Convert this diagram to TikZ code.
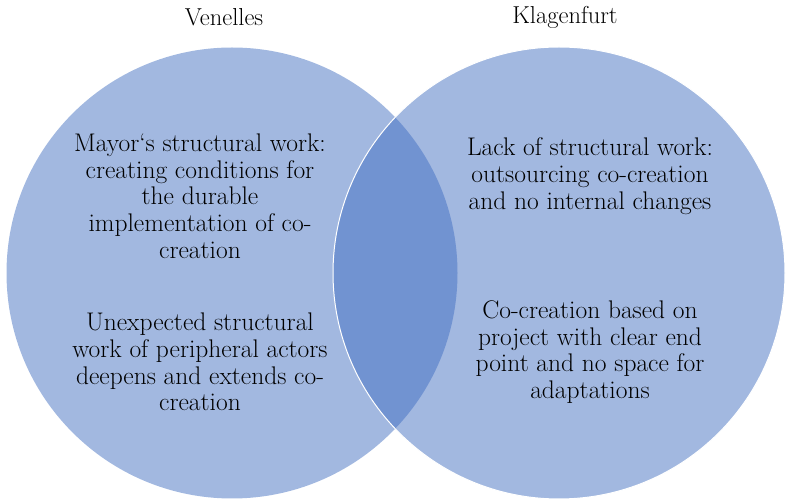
\documentclass[tikz,border=0pt]{standalone}
\usepackage{fontspec}
\definecolor{lightfill}{HTML}{A2B8E0}
\definecolor{darkfill}{HTML}{7193D1}
\tikzset{
  label/.style={align=center, inner sep=0pt, font=\fontsize{25.5}{26.7}\selectfont},
  title/.style={inner sep=0pt, font=\fontsize{24.5}{26.7}\selectfont}
}
\begin{document}
\begin{tikzpicture}[x=1pt,y=-1pt]
\useasboundingbox (0,0) rectangle (788,502);
\coordinate (cl) at (232,273);
\coordinate (cr) at (559,273);
\fill[lightfill] (cl) circle[radius=225.5];
\fill[lightfill] (cr) circle[radius=226];
\begin{scope}
\clip (cl) circle[radius=225.5];
\fill[darkfill] (cr) circle[radius=226];
\end{scope}
\draw[white, line width=1pt] (cr) circle[radius=226];
\node[title] (t1) at (224,17) {Venelles};
\node[title] (t2) at (565,17) {Klagenfurt};
\node[label] (a) at (200,196) {Mayor‘s structural work:\\creating conditions for\\the durable\\implementation of co-\\creation};
\node[label] (b) at (200,362) {Unexpected structural\\work of peripheral actors\\deepens and extends co-\\creation};
\node[label] (c) at (590,176) {Lack of structural work:\\outsourcing co-creation\\and no internal changes};
\node[label] (d) at (590,352) {Co-creation based on\\project with clear end\\point and no space for\\adaptations};
\end{tikzpicture}
\end{document}
